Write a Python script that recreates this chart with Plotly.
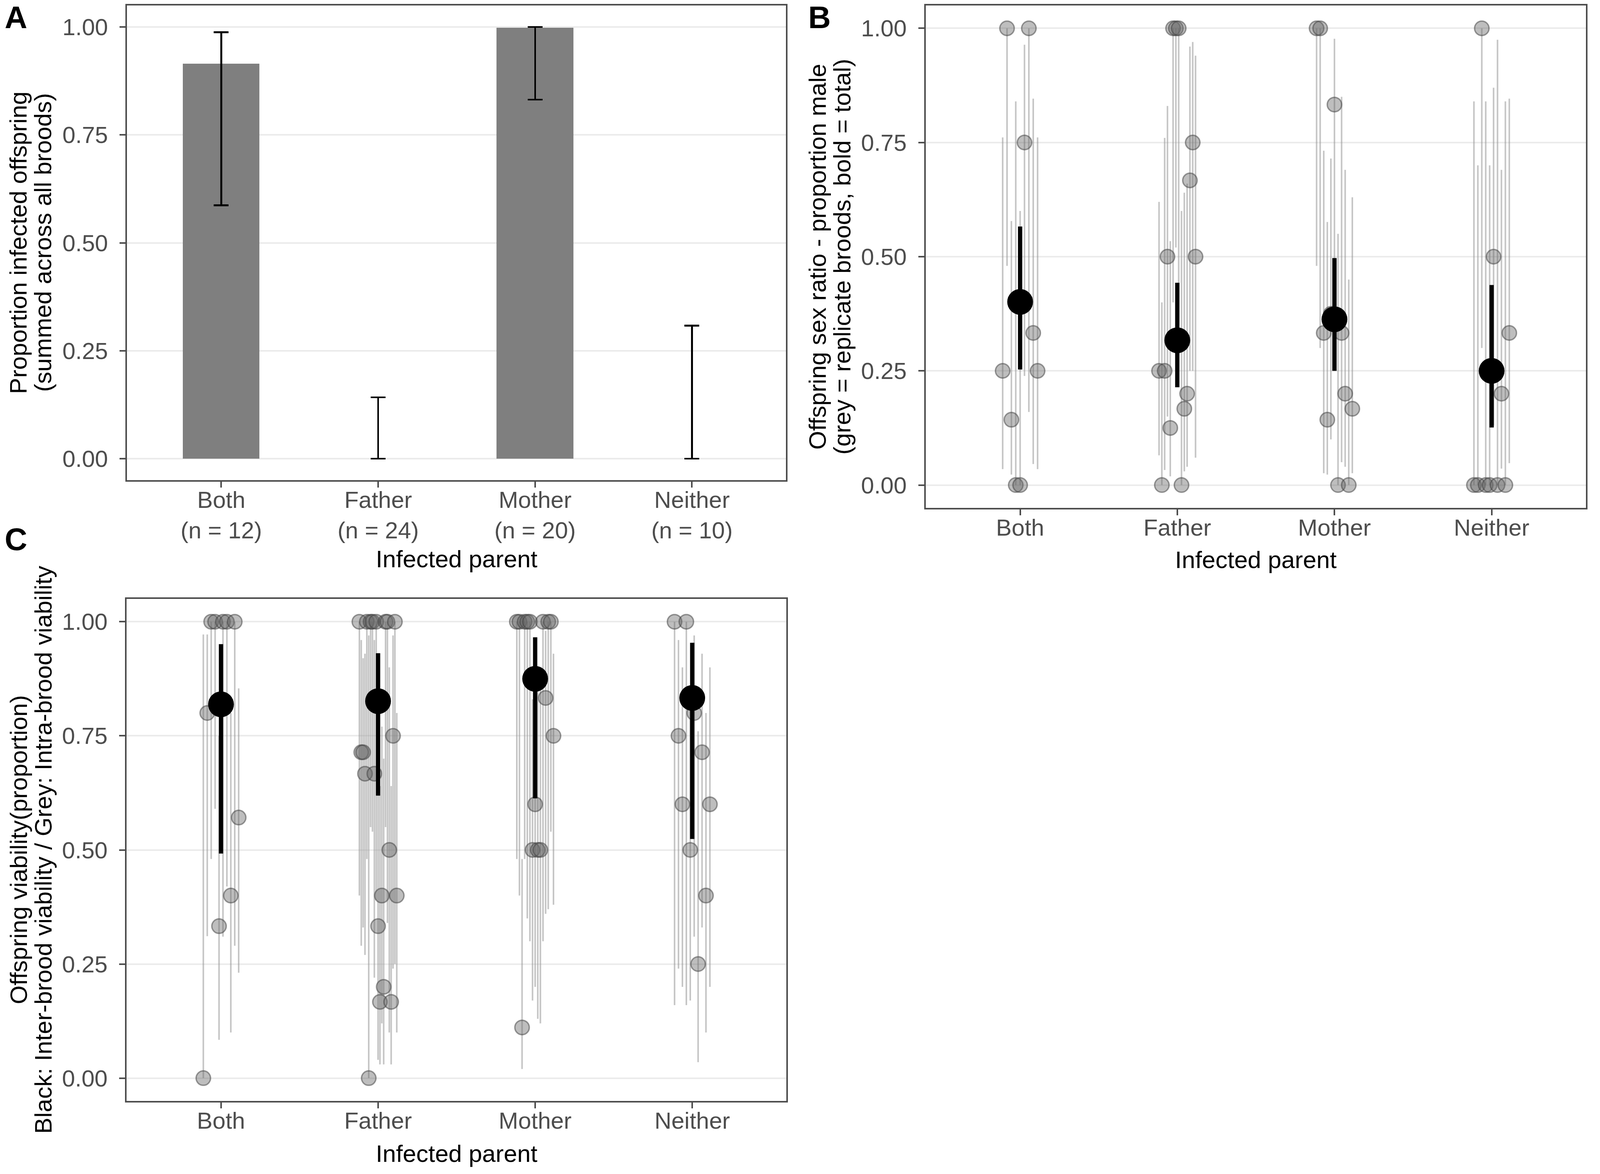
import plotly.graph_objects as go

W, H = 4317, 3005

# ---- data ----
parents = ["Both", "Father", "Mother", "Neither"]
n_families = [12, 24, 20, 10]

# A: proportion infected offspring (summed across broods)
infected_prop = [0.915, 0.0, 0.998, 0.0]
infected_lo = [0.587, 0.0, 0.832, 0.0]
infected_hi = [0.988, 0.142, 1.0, 0.308]

# B: sex ratio, totals
sex_total = [0.401, 0.317, 0.363, 0.250]
sex_total_lo = [0.253, 0.214, 0.250, 0.126]
sex_total_hi = [0.566, 0.443, 0.497, 0.438]

# B: replicate broods (value, lower, upper)
sex_both = [(0.25, 0.035, 0.761), (1.0, 0.48, 1.0), (0.143, 0.023, 0.578),
            (0.0, 0.0, 0.84), (0.0, 0.0, 0.60), (0.75, 0.239, 0.964),
            (1.0, 0.16, 1.0), (0.333, 0.046, 0.846), (0.25, 0.035, 0.761)]
sex_father = [(0.25, 0.065, 0.62), (0.0, 0.0, 0.40), (0.25, 0.033, 0.76),
              (0.50, 0.15, 0.83), (0.125, 0.019, 0.534), (1.0, 0.40, 1.0),
              (1.0, 0.52, 1.0), (1.0, 0.35, 1.0), (0.0, 0.0, 0.60),
              (0.167, 0.03, 0.64), (0.20, 0.04, 0.66), (0.667, 0.25, 0.96),
              (0.75, 0.25, 0.97), (0.50, 0.06, 0.94)]
sex_mother = [(1.0, 0.48, 1.0), (1.0, 0.30, 1.0), (0.333, 0.026, 0.732),
              (0.143, 0.023, 0.576), (0.375, 0.10, 0.715), (0.833, 0.36, 0.977),
              (0.0, 0.0, 0.55), (0.333, 0.05, 0.85), (0.20, 0.04, 0.69),
              (0.0, 0.0, 0.45), (0.167, 0.026, 0.63)]
sex_neither = [(0.0, 0.0, 0.84), (0.0, 0.0, 0.70), (1.0, 0.30, 1.0),
               (0.0, 0.0, 0.84), (0.0, 0.0, 0.70), (0.50, 0.13, 0.87),
               (0.0, 0.0, 0.975), (0.20, 0.036, 0.69), (0.0, 0.0, 0.84),
               (0.333, 0.048, 0.846)]

# C: viability, inter-brood totals
via_total = [0.819, 0.826, 0.875, 0.833]
via_total_lo = [0.492, 0.619, 0.613, 0.524]
via_total_hi = [0.951, 0.931, 0.966, 0.954]

# C: intra-brood viability (value, lower, upper)
via_both = [(0.0, 0.0, 0.972), (0.80, 0.311, 0.972), (1.0, 0.48, 1.0),
            (1.0, 0.59, 1.0), (0.333, 0.084, 0.75), (1.0, 0.31, 1.0),
            (1.0, 0.42, 1.0), (0.40, 0.10, 0.80), (1.0, 0.29, 1.0),
            (0.571, 0.231, 0.854)]
via_father = [(1.0, 0.40, 1.0), (0.714, 0.29, 0.96), (0.714, 0.33, 0.92),
              (0.667, 0.27, 0.93), (1.0, 0.48, 1.0), (0.0, 0.0, 0.97),
              (1.0, 0.55, 1.0), (1.0, 0.54, 1.0), (0.667, 0.22, 0.96),
              (1.0, 0.39, 1.0), (0.333, 0.04, 0.78), (0.167, 0.03, 0.64),
              (0.40, 0.12, 0.77), (0.20, 0.03, 0.70), (1.0, 0.55, 1.0),
              (1.0, 0.34, 1.0), (0.50, 0.10, 0.90), (0.167, 0.03, 0.64),
              (0.75, 0.24, 0.97), (1.0, 0.25, 1.0), (0.40, 0.10, 0.80)]
via_mother = [(1.0, 0.48, 1.0), (1.0, 0.40, 1.0), (0.111, 0.02, 0.48),
              (1.0, 0.48, 1.0), (1.0, 0.35, 1.0), (1.0, 0.30, 1.0),
              (0.50, 0.17, 0.83), (0.60, 0.20, 0.93), (0.50, 0.13, 0.87),
              (0.50, 0.12, 0.88), (1.0, 0.30, 1.0), (0.833, 0.36, 0.98),
              (1.0, 0.37, 1.0), (1.0, 0.54, 1.0), (0.75, 0.38, 0.93)]
via_neither = [(1.0, 0.16, 1.0), (0.75, 0.24, 0.96), (0.60, 0.20, 0.90),
               (1.0, 0.16, 1.0), (0.50, 0.17, 0.83), (0.80, 0.31, 0.97),
               (0.25, 0.035, 0.76), (0.714, 0.33, 0.93), (0.40, 0.10, 0.80),
               (0.60, 0.20, 0.90)]

y_ticks = [0, 0.25, 0.5, 0.75, 1.0]

# ---- styling ----
FONT = "Liberation Sans, Arial, sans-serif"
TICK_COL = "#4d4d4d"
BORDER_COL = "#4d4d4d"
GRID_COL = "#ebebeb"
DODGE = 0.25


def px_x(px):
    return px / W


def px_y(px):
    return 1 - px / H


def dodge(groups):
    # spread replicate broods side by side within each group (like position_dodge)
    xs, ys, lo, hi = [], [], [], []
    for g, broods in enumerate(groups):
        n = len(broods)
        for i, (v, l, h) in enumerate(broods):
            xs.append(g + (i - (n - 1) / 2) * DODGE / n)
            ys.append(v)
            lo.append(v - l)
            hi.append(h - v)
    return xs, ys, lo, hi


fig = go.Figure()

# A: bars with binomial CI
fig.add_trace(go.Bar(
    x=list(range(len(parents))), y=infected_prop, width=0.49,
    marker=dict(color="#7f7f7f", line=dict(width=0)),
    error_y=dict(type="data", symmetric=False,
                 array=[h - v for h, v in zip(infected_hi, infected_prop)],
                 arrayminus=[v - l for l, v in zip(infected_lo, infected_prop)],
                 color="black", thickness=4.5, width=19),
    xaxis="x", yaxis="y", showlegend=False, hoverinfo="skip"))


def brood_panel(groups, tot, tot_lo, tot_hi, xa, ya):
    xs, ys, lo, hi = dodge(groups)
    fig.add_trace(go.Scatter(
        x=xs, y=ys, mode="markers",
        marker=dict(size=37, color="rgba(100,100,100,0.42)",
                    line=dict(color="rgba(60,60,60,0.5)", width=3.5)),
        error_y=dict(type="data", symmetric=False, array=hi, arrayminus=lo,
                     color="rgba(150,150,150,0.55)", thickness=4, width=0),
        xaxis=xa, yaxis=ya, showlegend=False, hoverinfo="skip"))
    fig.add_trace(go.Scatter(
        x=list(range(len(tot))), y=tot, mode="markers",
        marker=dict(size=66, color="black"),
        error_y=dict(type="data", symmetric=False,
                     array=[h - v for h, v in zip(tot_hi, tot)],
                     arrayminus=[v - l for l, v in zip(tot_lo, tot)],
                     color="black", thickness=11, width=0),
        xaxis=xa, yaxis=ya, showlegend=False, hoverinfo="skip"))


brood_panel([sex_both, sex_father, sex_mother, sex_neither],
            sex_total, sex_total_lo, sex_total_hi, "x2", "y2")
brood_panel([via_both, via_father, via_mother, via_neither],
            via_total, via_total_lo, via_total_hi, "x3", "y3")

xcommon = dict(range=[-0.6, 3.6], tickvals=list(range(len(parents))),
               ticks="outside", ticklen=15, tickwidth=3.5, tickcolor=BORDER_COL,
               showgrid=False, zeroline=False, showline=True, mirror=True,
               linecolor=BORDER_COL, linewidth=4,
               tickfont=dict(family=FONT, size=60, color=TICK_COL),
               ticklabelstandoff=-20, fixedrange=True)
ycommon = dict(range=[-0.05, 1.05], tickvals=y_ticks, tickformat=".2f",
               ticks="outside", ticklen=15, tickwidth=3.5, tickcolor=BORDER_COL,
               showgrid=True, gridcolor=GRID_COL, gridwidth=3.5,
               zeroline=False, showline=True, mirror=True,
               linecolor=BORDER_COL, linewidth=4,
               tickfont=dict(family=FONT, size=60, color=TICK_COL),
               ticklabelstandoff=18, fixedrange=True)

labels_n = [f"{p}<br>(n = {n})" for p, n in zip(parents, n_families)]

fig.update_layout(
    width=W, height=H,
    margin=dict(l=0, r=0, t=0, b=0),
    paper_bgcolor="white", plot_bgcolor="white",
    bargap=0,
    xaxis=dict(xcommon, domain=[px_x(343), px_x(2121)], ticktext=labels_n, anchor="y"),
    yaxis=dict(ycommon, domain=[px_y(1229), px_y(14)], anchor="x"),
    xaxis2=dict(xcommon, domain=[px_x(2498), px_x(4279)], ticktext=parents, anchor="y2"),
    yaxis2=dict(ycommon, domain=[px_y(1300), px_y(14)], anchor="x2"),
    xaxis3=dict(xcommon, domain=[px_x(342), px_x(2122)], ticktext=parents, anchor="y3"),
    yaxis3=dict(ycommon, domain=[px_y(2818), px_y(1533)], anchor="x3"),
)

ann = []


def text(s, x, y, size=62, angle=0, bold=False, xanchor="center"):
    ann.append(dict(text=f"<b>{s}</b>" if bold else s, x=px_x(x), y=px_y(y),
                    xref="paper", yref="paper", showarrow=False, textangle=angle,
                    xanchor=xanchor, yanchor="middle",
                    font=dict(family=FONT, size=size, color="black")))


# panel letters
text("A", 11, 45, size=80, bold=True, xanchor="left")
text("B", 2178, 45, size=80, bold=True, xanchor="left")
text("C", 11, 1380, size=80, bold=True, xanchor="left")

# y-axis titles (two lines each)
text("Proportion infected offspring", 50, 621, angle=-90)
text("(summed across all broods)", 116, 621, angle=-90)
text("Offspring sex ratio - proportion male", 2206, 657, angle=-90)
text("(grey = replicate broods, bold = total)", 2272, 657, angle=-90)
text("Offspring viability(proportion)", 50, 2175, angle=-90)
text("Black: Inter-brood viability / Grey: Intra-brood viability", 116, 2175, angle=-90)

# x-axis titles
text("Infected parent", 1232, 1431)
text("Infected parent", 3388, 1432)
text("Infected parent", 1232, 2952)

fig.update_layout(annotations=ann)

# the viewport can differ from the nominal figure size: drop the body margin
# and resize the figure to fill the visible page (domains are fractions)
fit_js = """
document.documentElement.style.margin = '0';
document.body.style.margin = '0';
document.body.style.overflow = 'hidden';
var gd = document.getElementById('{plot_id}');
var w = window.innerWidth, h = window.innerHeight;
if (w > 0 && h > 0 && (Math.abs(w - %d) > 2 || Math.abs(h - %d) > 2)) {
    gd.style.width = w + 'px';
    gd.style.height = h + 'px';
    Plotly.relayout(gd, {width: w, height: h});
}
""" % (W, H)

fig.write_html("out.html", post_script=fit_js, config={"displayModeBar": False})
